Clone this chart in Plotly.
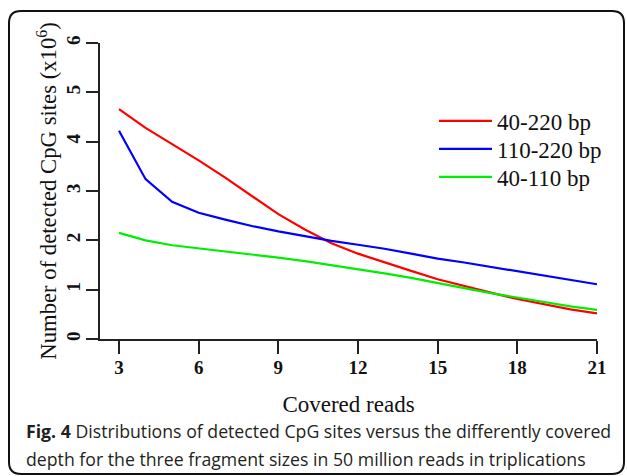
import plotly.graph_objects as go

# ---- data ----
covered_reads = list(range(3, 22))
s_40_220 = [4.66, 4.28, 3.95, 3.62, 3.27, 2.90, 2.53, 2.22, 1.94, 1.73, 1.55, 1.38, 1.21, 1.07, 0.94, 0.81, 0.70, 0.60, 0.52]
s_110_220 = [4.22, 3.24, 2.78, 2.56, 2.42, 2.29, 2.18, 2.08, 1.99, 1.91, 1.83, 1.73, 1.63, 1.55, 1.46, 1.37, 1.29, 1.20, 1.11]
s_40_110 = [2.15, 2.00, 1.90, 1.84, 1.78, 1.72, 1.65, 1.58, 1.50, 1.42, 1.33, 1.24, 1.13, 1.03, 0.93, 0.84, 0.75, 0.66, 0.59]
series_names = ["40-220 bp", "110-220 bp", "40-110 bp"]
series_colors = ["#ff0000", "#0000ff", "#00ee00"]
x_ticks = [3, 6, 9, 12, 15, 18, 21]
y_ticks = [0, 1, 2, 3, 4, 5, 6]
caption_line1 = "<b>Fig. 4</b> Distributions of detected CpG sites versus the differently covered"
caption_line2 = "depth for the three fragment sizes in 50 million reads in triplications"

W, H = 627, 476
ML, MR, MT, MB = 100, 30, 43, 137

pw = W - ML - MR
ph = H - MT - MB

def px2paper_x(px):
    return (px - ML) / pw

def px2paper_y(py):
    return (H - MB - py) / ph

serif = "Liberation Serif, Times New Roman, serif"
axis_col = "#222222"

fig = go.Figure()
legend_ids = ["legend", "legend2", "legend3"]
legend_rows_px = [121, 149, 177]
for name, vals, col, lid in zip(series_names, [s_40_220, s_110_220, s_40_110], series_colors, legend_ids):
    fig.add_trace(go.Scatter(x=covered_reads, y=vals, mode="lines", name=name, legend=lid,
                             line=dict(color=col, width=2.2)))

fig.update_xaxes(range=[3 - 19 / 26.55, 21], tickvals=x_ticks,
                 ticktext=[f"<b>{v}</b>" for v in x_ticks],
                 ticks="outside", ticklen=13,
                 tickwidth=2, tickcolor=axis_col, showline=True, linewidth=2, linecolor=axis_col,
                 showgrid=False, zeroline=False,
                 tickfont=dict(family=serif, size=19, color="#111"),
                 ticklabelstandoff=-3,
                 title=dict(text="Covered reads", font=dict(family=serif, size=23, color="#111"), standoff=19))
fig.update_yaxes(range=[0, 6], tickvals=y_ticks,
                 ticktext=[f"<b>{v}</b>" for v in y_ticks],
                 ticks="outside", ticklen=12,
                 tickwidth=2, tickcolor=axis_col, showline=True, linewidth=2, linecolor=axis_col,
                 showgrid=False, zeroline=False, tickangle=-90,
                 tickfont=dict(family=serif, size=19, color="#111"),
                 ticklabelstandoff=-2,
                 title=dict(text="Number of detected CpG sites (x10<sup>6</sup>)",
                            font=dict(family=serif, size=22.7, color="#111"), standoff=0))

# rounded frame
x0, x1, y0, y1, r = 9, 624, 11, 474, 12
pts = [
    f"M {px2paper_x(x0 + r)},{px2paper_y(y0)}",
    f"L {px2paper_x(x1 - r)},{px2paper_y(y0)}",
    f"Q {px2paper_x(x1)},{px2paper_y(y0)} {px2paper_x(x1)},{px2paper_y(y0 + r)}",
    f"L {px2paper_x(x1)},{px2paper_y(y1 - r)}",
    f"Q {px2paper_x(x1)},{px2paper_y(y1)} {px2paper_x(x1 - r)},{px2paper_y(y1)}",
    f"L {px2paper_x(x0 + r)},{px2paper_y(y1)}",
    f"Q {px2paper_x(x0)},{px2paper_y(y1)} {px2paper_x(x0)},{px2paper_y(y1 - r)}",
    f"L {px2paper_x(x0)},{px2paper_y(y0 + r)}",
    f"Q {px2paper_x(x0)},{px2paper_y(y0)} {px2paper_x(x0 + r)},{px2paper_y(y0)} Z",
]
fig.add_shape(type="path", path=" ".join(pts), xref="paper", yref="paper",
              line=dict(color="#111", width=2), layer="above")

cap_font = dict(family="Open Sans, Noto Sans, sans-serif", size=17.7, color="#231f20")
for txt, ypx in [(caption_line1, 431), (caption_line2, 459)]:
    fig.add_annotation(text=txt, xref="paper", yref="paper",
                       x=px2paper_x(24), y=px2paper_y(ypx), xanchor="left", yanchor="middle",
                       align="left", showarrow=False, font=cap_font)

leg_common = dict(xanchor="left", yanchor="middle", bgcolor="rgba(0,0,0,0)",
                  font=dict(family=serif, size=23, color="#111"), itemwidth=53)
fig.update_layout(
    width=W, height=H, margin=dict(l=ML, r=MR, t=MT, b=MB),
    paper_bgcolor="white", plot_bgcolor="white",
    showlegend=True,
    legend=dict(x=px2paper_x(434), y=px2paper_y(legend_rows_px[0]), **leg_common),
    legend2=dict(x=px2paper_x(434), y=px2paper_y(legend_rows_px[1]), **leg_common),
    legend3=dict(x=px2paper_x(434), y=px2paper_y(legend_rows_px[2]), **leg_common),
)

fig.write_html("out.html", config={"displayModeBar": False},
               post_script="document.body.style.margin='0';")
